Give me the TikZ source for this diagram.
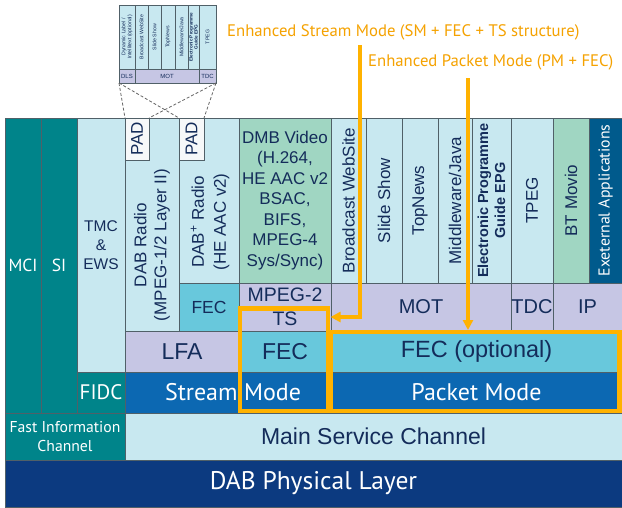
\documentclass[tikz,border=0pt]{standalone}
\usepackage{fontspec}
\setmainfont{Liberation Sans}
\newfontfamily\hum{PT Sans}
\usetikzlibrary{arrows.meta}
\definecolor{teal1}{RGB}{0,132,138}
\definecolor{lblue}{RGB}{200,232,240}
\definecolor{mint}{RGB}{160,214,194}
\definecolor{extblue}{RGB}{0,90,140}
\definecolor{cyanm}{RGB}{104,200,220}
\definecolor{lav}{RGB}{198,198,228}
\definecolor{modeblue}{RGB}{12,104,178}
\definecolor{navy}{RGB}{12,58,128}
\definecolor{txt}{RGB}{20,44,90}
\definecolor{org}{RGB}{255,178,0}
\definecolor{orgtxt}{RGB}{245,162,0}
\definecolor{edge}{RGB}{80,96,104}
\definecolor{padfill}{RGB}{246,248,249}
\newcommand\fs[2]{\fontsize{#1}{#2}\selectfont}
\newcommand\bx[7]{\node[box,#6,minimum width={(#4-#2)*1pt},minimum height={(#5-#3)*1pt}] (#1) at (#2,#3) {#7};}
\begin{document}
\begin{tikzpicture}[x=1pt,y=-1pt,
  box/.style={draw=edge,line width=0.8pt,inner sep=0pt,outer sep=0pt,anchor=north west,text=txt,align=center},
  rot/.style={rotate=90,inner sep=0pt,align=center,text=txt},
  wt/.style={text=white,font=\hum\fs{17.5}{20}},
  nt/.style={font=\fs{17}{20}},
  tiny/.style={rotate=90,inner sep=0pt,align=center,text=txt,font=\fs{5.2}{6}},
  dsh/.style={draw=gray!80!black,line width=0.8pt,dash pattern=on 3pt off 2pt},
  obox/.style={draw=org,line width=4.5pt},
  oarr/.style={draw=org,line width=4pt,-{Triangle[length=10pt,width=10pt]}},
  olab/.style={text=orgtxt,anchor=west,inner sep=0pt,font=\hum\fs{16.7}{20}}]
\useasboundingbox (0,0) rectangle (622,507);
\fill[white] (0,0) rectangle (622,507);

% ---- inset
\bx{i1}{119}{5}{135}{69}{fill=lblue,line width=0.5pt}{}
\bx{i2}{135}{5}{148}{69}{fill=lblue,line width=0.5pt}{}
\bx{i3}{148}{5}{161}{69}{fill=lblue,line width=0.5pt}{}
\bx{i4}{161}{5}{175}{69}{fill=lblue,line width=0.5pt}{}
\bx{i5}{175}{5}{188}{69}{fill=lblue,line width=0.5pt}{}
\bx{i6}{188}{5}{199}{69}{fill=lblue,line width=0.5pt}{}
\bx{i7}{199}{5}{216}{69}{fill=lblue,line width=0.5pt}{}
\node[tiny] (ti1) at (i1.center) {Dynamic Label /\\Intellitext (optional)};
\node[tiny] (ti2) at (i2.center) {Broadcast WebSite};
\node[tiny] (ti3) at (i3.center) {Slide Show};
\node[tiny] (ti4) at (i4.center) {TopNews};
\node[tiny] (ti5) at (i5.center) {Middleware/Java};
\node[tiny,font=\bfseries\fs{4.6}{5}] (ti6) at (i6.center) {Electronic Programme\\Guide EPG};
\node[tiny] (ti7) at (i7.center) {TPEG};
\bx{idls}{119}{69}{135}{83}{fill=lav,line width=0.5pt,font=\fs{6}{7}}{DLS}
\bx{imot}{135}{69}{199}{83}{fill=lav,line width=0.5pt,font=\fs{6}{7}}{MOT}
\bx{itdc}{199}{69}{216}{83}{fill=lav,line width=0.5pt,font=\fs{6}{7}}{TDC}

% ---- application columns
\bx{mci}{5}{118}{41}{413}{fill=teal1,wt}{MCI}
\bx{si}{41}{118}{77}{413}{fill=teal1,wt}{SI}
\bx{tmc}{77}{118}{125}{372}{fill=lblue,font=\fs{15.5}{19}}{TMC\\\&\\EWS}
\bx{dab}{125}{118}{179}{331}{fill=lblue}{}
\node[rot,nt] (tdab) at (152,245) {DAB Radio\\(MPEG-1/2 Layer II)};
\bx{pad1}{125}{118}{149}{160}{fill=padfill}{}
\node[rot,nt] (tpad1) at (pad1.center) {PAD};
\bx{dabp}{179}{118}{239}{283}{fill=lblue}{}
\node[rot,font=\fs{17}{22}] (tdabp) at (210,222) {DAB\textsuperscript{+} Radio\\(HE AAC v2)};
\bx{pad2}{179}{118}{204}{160}{fill=padfill}{}
\node[rot,nt] (tpad2) at (pad2.center) {PAD};
\bx{dmb}{239}{118}{331}{283}{fill=mint,font=\fs{17}{20.5}}{DMB Video\\(H.264,\\HE AAC v2\\BSAC,\\BIFS,\\MPEG-4\\Sys/Sync)}
\bx{bws}{331}{118}{366}{283}{fill=lblue}{}
\node[rot,nt] (tbws) at (bws.center) {Broadcast WebSite};
\bx{sls}{366}{118}{402}{283}{fill=lblue}{}
\node[rot,nt] (tsls) at (sls.center) {Slide Show};
\bx{tpn}{402}{118}{438}{283}{fill=lblue}{}
\node[rot,nt] (ttpn) at (tpn.center) {TopNews};
\bx{mwj}{438}{118}{472}{283}{fill=lblue}{}
\node[rot,nt] (tmwj) at (mwj.center) {Middleware/Java};
\bx{epg}{472}{118}{511}{283}{fill=lblue}{}
\node[rot,font=\bfseries\fs{14.5}{17}] (tepg) at (epg.center) {Electronic Programme\\Guide EPG};
\bx{tpg}{511}{118}{553}{283}{fill=lblue}{}
\node[rot,nt] (ttpg) at (tpg.center) {TPEG};
\bx{btm}{553}{118}{589}{283}{fill=mint}{}
\node[rot,nt] (tbtm) at (btm.center) {BT Movio};
\bx{ext}{589}{118}{622}{283}{fill=extblue}{}
\node[rot,text=white,font=\hum\fs{15.8}{18}] (text) at (ext.center) {Exeternal Applications};

% ---- transport row
\bx{fec1}{179}{283}{239}{331}{fill=cyanm,font=\fs{17.5}{20}}{FEC}
\bx{mpg}{239}{283}{331}{331}{fill=lav,font=\fs{19.5}{24}}{MPEG-2\\TS}
\bx{mot}{331}{283}{511}{331}{fill=lav,font=\fs{20}{24}}{MOT}
\bx{tdc}{511}{283}{553}{331}{fill=lav,font=\fs{20}{24}}{TDC}
\bx{ip}{553}{283}{622}{331}{fill=lav,font=\fs{20}{24}}{IP}

% ---- FEC row
\bx{lfa}{125}{331}{239}{372}{fill=lav,font=\fs{23}{26}}{LFA}
\bx{fec2}{239}{331}{331}{372}{fill=cyanm,font=\fs{23}{26}}{FEC}
\bx{fecopt}{331}{331}{622}{372}{fill=cyanm,font=\fs{23.5}{26}}{FEC (optional)}

% ---- mode row
\bx{fidc}{77}{372}{125}{413}{fill=teal1,wt,font=\hum\fs{21}{24}}{FIDC}
\bx{stm}{125}{372}{331}{413}{fill=modeblue,wt,font=\hum\fs{24}{26}}{\hspace*{10pt}Stream Mode}
\bx{pkm}{331}{372}{622}{413}{fill=modeblue,wt,font=\hum\fs{24}{26}}{Packet Mode}

% ---- channels
\bx{fic}{5}{413}{125}{460}{fill=teal1,wt,font=\hum\fs{15.7}{19}}{Fast Information\\Channel}
\bx{msc}{125}{413}{622}{460}{fill=lblue,font=\fs{23}{26}}{Main Service Channel}
\bx{phy}{5}{460}{622}{507}{fill=navy,wt,font=\hum\fs{25.5}{28}}{DAB Physical Layer}

% ---- dashed zoom lines
\draw[dsh] (idls.south west) -- (pad1.north west);
\draw[dsh] (idls.south west) -- (pad2.north west);
\draw[dsh] (itdc.south east) -- (pad1.north east);
\draw[dsh] (itdc.south east) -- (pad2.north east);

% ---- orange highlights
\coordinate (sbnw) at (240,308.5);
\coordinate (sbse) at (328,411);
\coordinate (pbnw) at (331,332);
\coordinate (pbse) at (619.5,411);
\draw[obox] (sbnw) rectangle (sbse);
\draw[obox] (pbnw) rectangle (pbse);
\node[olab] (lab1) at (227,32) {Enhanced Stream Mode (SM + FEC + TS structure)};
\node[olab] (lab2) at (368,62) {Enhanced Packet Mode (PM + FEC)};
\coordinate (a1s) at (360,45);
\coordinate (a1k) at (360,317);
\coordinate (a1e) at (330.5,317);
\coordinate (a2s) at (468,78);
\coordinate (a2e) at (468,330);
\draw[oarr] (a1s) -- (a1k) -- (a1e);
\draw[oarr] (a2s) -- (a2e);
\end{tikzpicture}
\end{document}
